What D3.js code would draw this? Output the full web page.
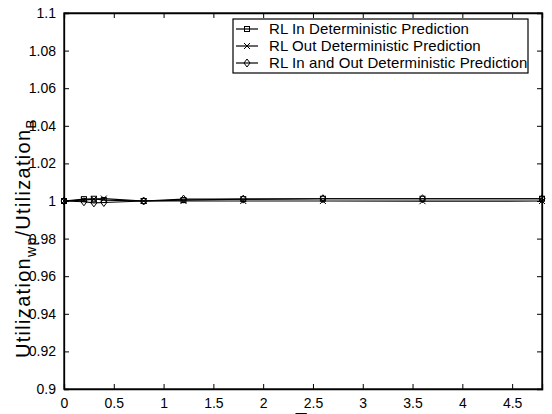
<!DOCTYPE html>
<html>
<head>
<meta charset="utf-8">
<script src="https://cdn.jsdelivr.net/npm/d3@7"></script>
<style>
  body { margin: 0; background: #fff; }
  svg { display: block; font-family: "Liberation Sans", Arial, sans-serif; }
</style>
</head>
<body>
<div id="chart"></div>
<script>
// data
const tValues = [0, 0.2, 0.3, 0.4, 0.8, 1.2, 1.8, 2.6, 3.6, 4.8];
const rlIn = [1.0, 1.001, 1.0012, 1.0005, 1.0, 1.0005, 1.001, 1.0012, 1.0012, 1.0012];
const rlOut = [1.0, 1.0005, 1.001, 1.0013, 1.0, 1.0, 1.0, 1.0, 0.9999, 1.0];
const rlInOut = [1.0, 0.9996, 0.999, 0.9992, 1.0, 1.001, 1.001, 1.0012, 1.0012, 1.0012];
const seriesNames = ['RL In Deterministic Prediction', 'RL Out Deterministic Prediction', 'RL In and Out Deterministic Prediction'];
const xTicks = [0, 0.5, 1, 1.5, 2, 2.5, 3, 3.5, 4, 4.5];
const yTicks = [0.9, 0.92, 0.94, 0.96, 0.98, 1, 1.02, 1.04, 1.06, 1.08, 1.1];

const specs = {
    width: 552,
    height: 414,
    margin: { top: 13, right: 10, bottom: 25, left: 64 },
};

const width = 542 - specs.margin.left;
const height = 389 - specs.margin.top;

const x = d3.scaleLinear().domain([0, 4.8]).range([0, width]);
const y = d3.scaleLinear().domain([0.9, 1.1]).range([height, 0]);

const svg = d3.select('#chart')
    .append('svg')
    .attr('width', specs.width)
    .attr('height', specs.height);

const g = svg.append('g')
    .attr('transform', `translate(${specs.margin.left},${specs.margin.top})`);

// axes with inward ticks
const fmtY = d => (d === 1 ? '1' : d3.format('.2~f')(d));
g.append('g')
    .attr('transform', `translate(0,${height})`)
    .call(d3.axisBottom(x).tickValues(xTicks).tickSize(-5).tickPadding(9).tickFormat(d3.format('~g')));
g.append('g')
    .call(d3.axisTop(x).tickValues(xTicks).tickSize(-5).tickFormat(''));
g.append('g')
    .call(d3.axisLeft(y).tickValues(yTicks).tickSize(-5).tickPadding(8).tickFormat(fmtY));
g.append('g')
    .attr('transform', `translate(${width},0)`)
    .call(d3.axisRight(y).tickValues(yTicks).tickSize(-5).tickFormat(''));

g.selectAll('.domain').attr('stroke', '#000').attr('stroke-width', 1.3);
g.selectAll('.tick line').attr('stroke', '#000');
g.selectAll('.tick text').attr('fill', '#000').style('font-size', '14px');

// frame
g.append('rect')
    .attr('width', width)
    .attr('height', height)
    .attr('fill', 'none')
    .attr('stroke', '#000')
    .attr('stroke-width', 1.3);

// markers
function drawMarker(sel, kind) {
    if (kind === 0) {
        sel.append('rect').attr('x', -2.5).attr('y', -2.5).attr('width', 5).attr('height', 5)
            .attr('fill', 'none').attr('stroke', '#000');
    } else if (kind === 1) {
        sel.append('path').attr('d', 'M-3,-3L3,3M-3,3L3,-3').attr('stroke', '#000').attr('fill', 'none');
    } else {
        sel.append('path').attr('d', 'M0,-4L3,0L0,4L-3,0Z').attr('stroke', '#000').attr('fill', 'none');
    }
}

const allSeries = [rlIn, rlOut, rlInOut];
const line = d3.line().x((d, i) => x(tValues[i])).y(d => y(d));

allSeries.forEach((vals, k) => {
    g.append('path')
        .datum(vals)
        .attr('d', line)
        .attr('fill', 'none')
        .attr('stroke', '#000')
        .attr('stroke-width', 1.2);
    vals.forEach((v, i) => {
        const m = g.append('g').attr('transform', `translate(${x(tValues[i])},${y(v)})`);
        drawMarker(m, k);
    });
});

// legend
const lg = svg.append('g').attr('transform', 'translate(233,19)');
lg.append('rect').attr('width', 295).attr('height', 54)
    .attr('fill', '#fff').attr('stroke', '#000').attr('stroke-width', 1.2);
seriesNames.forEach((name, k) => {
    const row = lg.append('g').attr('transform', `translate(0,${10 + k * 17})`);
    row.append('line').attr('x1', 3).attr('x2', 25).attr('stroke', '#000').attr('stroke-width', 1.2);
    drawMarker(row.append('g').attr('transform', 'translate(14,0)'), k);
    row.append('text').attr('x', 36).attr('dy', '0.35em')
        .style('font-size', '15px').style('letter-spacing', '0.1px').text(name);
});

// axis labels
const yl = svg.append('text')
    .attr('transform', 'translate(30,358) rotate(-90)')
    .style('font-size', '20px')
    .style('letter-spacing', '1.3px');
yl.append('tspan').text('Utilization');
yl.append('tspan').attr('dy', 6).style('font-size', '14px').text('wp');
yl.append('tspan').attr('dy', -6).text('/Utilization');
yl.append('tspan').attr('dy', 6).style('font-size', '14px').text('B');

svg.append('text')
    .attr('x', 301)
    .attr('y', 427)
    .attr('text-anchor', 'middle')
    .style('font-size', '20px')
    .text('T');
</script>
</body>
</html>
